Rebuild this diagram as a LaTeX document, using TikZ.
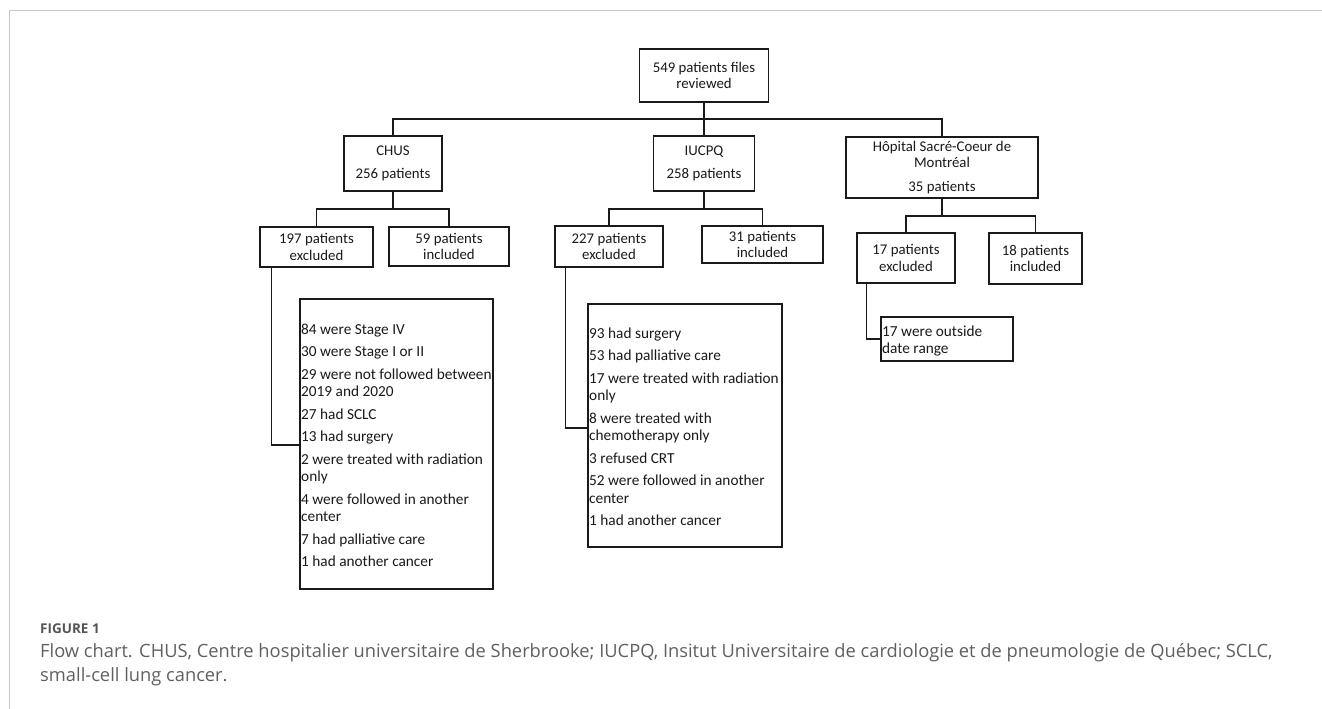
\documentclass[tikz,border=0pt]{standalone}
\usepackage{fontspec}
\setmainfont{Carlito}
\newfontfamily\capfont{Open Sans}
\definecolor{framegray}{HTML}{C8C8C8}
\definecolor{capgray}{HTML}{606060}
\definecolor{figgray}{HTML}{555555}
\definecolor{inkblack}{HTML}{1A1A1A}
\begin{document}
\begin{tikzpicture}[x=1pt,y=-1pt,
  box/.style={draw=inkblack, line width=1.3pt, rectangle, inner sep=0pt, align=center,
              font=\fontsize{14.8}{16.5}\selectfont, text=inkblack},
  frame/.style={draw=inkblack, line width=1.3pt, rectangle, inner sep=0pt},
  listtext/.style={inner sep=0pt, anchor=north west, align=left,
                   font=\fontsize{15.3}{17.5}\selectfont, text=inkblack},
  conn/.style={draw=inkblack, line width=1.3pt},
  capline/.style={inner sep=0pt, anchor=west, text=capgray}]
\useasboundingbox (0,0) rectangle (1322,709);
\fill[white] (0,0) rectangle (1322,709);
% outer frame
\draw[framegray, line width=1pt] (9,709) -- (9,11) -- (1322,11);

% level 0
\node[box, minimum width=129pt, minimum height=53pt] (top) at (704,75.5) {549 patients files\\reviewed};
% level 1
\node[box, minimum width=98pt, minimum height=55pt] (chus) at (393,163.5) {CHUS\\[6pt]256 patients};
\node[box, minimum width=101pt, minimum height=55pt] (iucpq) at (704,163.5) {IUCPQ\\[6pt]258 patients};
\node[box, minimum width=192pt, minimum height=61pt] (hop) at (942,167.5) {Hôpital Sacré-Coeur de\\Montréal\\[7pt]35 patients};
\coordinate (bus) at (704,119);
\draw[conn] (top.south) -- (iucpq.north);
\draw[conn] (chus.north) |- (bus) -| (hop.north);

% level 2
\node[box, minimum width=113pt, minimum height=40pt] (ex1) at (316.5,247) {197 patients\\excluded};
\node[box, minimum width=120pt, minimum height=39pt] (in1) at (449,246.5) {59 patients\\included};
\node[box, minimum width=108pt, minimum height=41pt] (ex2) at (609,246.5) {227 patients\\excluded};
\node[box, minimum width=121pt, minimum height=37pt] (in2) at (762.5,244.5) {31 patients\\included};
\node[box, minimum width=98pt, minimum height=50pt] (ex3) at (906,258) {17 patients\\excluded};
\node[box, minimum width=93pt, minimum height=51pt] (in3) at (1035.5,258.5) {18 patients\\included};

\coordinate (bus1) at (393,209);
\coordinate (bus2) at (704,209);
\coordinate (bus3) at (942,216);
\draw[conn] (chus.south) -- (bus1);
\draw[conn] (ex1.north) |- (bus1) -| (in1.north);
\draw[conn] (iucpq.south) -- (bus2);
\draw[conn] (ex2.north) |- (bus2) -| (in2.north);
\draw[conn] (hop.south) -- (bus3);
\draw[conn] (ex3.north) |- (bus3) -| (in3.north);

% level 3 : lists
\node[frame, minimum width=193pt, minimum height=290pt] (list1) at (396.5,444) {};
\node[listtext] (list1txt) at (301,323.5) {84 were Stage IV\\[5pt]
30 were Stage I or II\\[5pt]
29 were not followed between\\
2019 and 2020\\[5pt]
27 had SCLC\\[5pt]
13 had surgery\\[5pt]
2 were treated with radiation\\
only\\[5pt]
4 were followed in another\\
center\\[5pt]
7 had palliative care\\[5pt]
1 had another cancer};

\node[frame, minimum width=194pt, minimum height=243pt] (list2) at (685,425.5) {};
\node[listtext] (list2txt) at (589,327.5) {93 had surgery\\[5pt]
53 had palliative care\\[5pt]
17 were treated with radiation\\
only\\[5pt]
8 were treated with\\
chemotherapy only\\[5pt]
3 refused CRT\\[5pt]
52 were followed in another\\
center\\[5pt]
1 had another cancer};

\node[frame, minimum width=132pt, minimum height=44pt] (list3) at (947,339) {};
\node[listtext] (list3txt) at (882,325.5) {17 were outside\\
date range};

\draw[conn] ([xshift=12pt]ex1.south west) |- (list1.west |- 0,445);
\draw[conn] ([xshift=11pt]ex2.south west) |- (list2.west |- 0,428);
\draw[conn] ([xshift=10pt]ex3.south west) |- (list3.west |- 0,339);

% caption
\node[capline, text=figgray, font=\capfont\bfseries\fontsize{13.5}{16}\selectfont] (capt) at (40,629) {FIGURE 1};
\node[capline, font=\capfont\fontsize{18.3}{20}\selectfont] (cap1) at (40,653) {Flow chart. CHUS, Centre hospitalier universitaire de Sherbrooke; IUCPQ, Insitut Universitaire de cardiologie et de pneumologie de Québec; SCLC,};
\node[capline, font=\capfont\fontsize{18.3}{20}\selectfont] (cap2) at (40,677) {small-cell lung cancer.};
\end{tikzpicture}
\end{document}
